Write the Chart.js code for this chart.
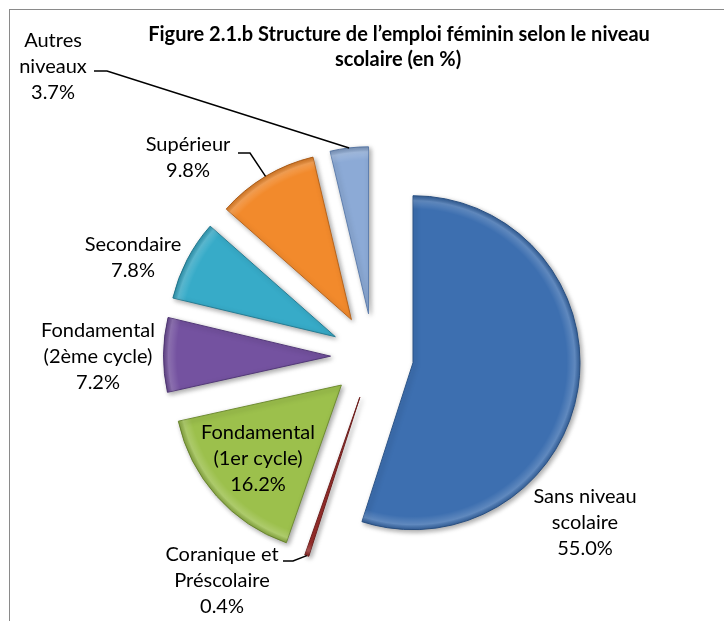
<!DOCTYPE html>
<html lang="fr">
  <head>
    <meta charset="UTF-8" />
    <title>Figure 2.1.b Structure de l'emploi féminin</title>
    <script src="https://cdn.jsdelivr.net/npm/chart.js"></script>
    <style>
      html, body {
        margin: 0;
        padding: 0;
        background: #fff;
        overflow: hidden;
      }
      .frame {
        position: absolute;
        left: 9px;
        top: 9px;
        width: 900px;
        height: 900px;
        border: 1px solid #8a8a8a;
      }
      #pieChart {
        position: absolute;
        left: 0;
        top: 0;
      }
    </style>
  </head>

  <body>
    <div class="frame"></div>
    <canvas id="pieChart" width="724" height="621"></canvas>

    <script>
      // categories (split on lines as in the figure) and shares in %
      const categories = [
        ["Sans niveau", "scolaire"],
        ["Coranique et", "Préscolaire"],
        ["Fondamental", "(1er cycle)"],
        ["Fondamental", "(2ème cycle)"],
        ["Secondaire"],
        ["Supérieur"],
        ["Autres", "niveaux"],
      ];
      const shares = [55.0, 0.4, 16.2, 7.2, 7.8, 9.8, 3.7];

      const colors = ["#3d6fb0", "#9a2e2b", "#9cc04c", "#7452a0", "#37abc8", "#f28a2c", "#8caad6"];
      const borders = ["#2c5488", "#6e1f1d", "#6f8c33", "#523878", "#267d94", "#b8641c", "#5f7fae"];

      // where each label's first line is centred
      const labelPos = [
        [585, 497],
        [222, 555],
        [258, 433],
        [98, 331],
        [133, 245],
        [188, 145],
        [53, 41],
      ];
      // leader lines: text side start, elbow, then to the slice edge
      const leaders = {
        6: [[94, 71], [107, 71]],
        5: [[238, 153], [250, 153]],
        1: [[283, 561], [293, 561]],
      };
      const explode = [40, 43, 43, 43, 43, 43, 43];

      const FONT = "Lato, 'Open Sans', sans-serif";

      const explodePlugin = {
        id: "explode",
        afterDatasetsUpdate(chart) {
          const arcs = chart.getDatasetMeta(0).data;
          arcs.forEach((arc, i) => {
            const mid = (arc.startAngle + arc.endAngle) / 2;
            arc.x += Math.cos(mid) * explode[i];
            arc.y += Math.sin(mid) * explode[i];
          });
        },
        beforeDatasetsDraw(chart) {
          const c = chart.ctx;
          c.save();
          c.shadowColor = "rgba(0,0,0,0.35)";
          c.shadowBlur = 5;
          c.shadowOffsetX = 2;
          c.shadowOffsetY = 2;
        },
        afterDatasetsDraw(chart) {
          const c = chart.ctx;
          c.restore();
          // soft bevel on the rim of each slice
          chart.getDatasetMeta(0).data.forEach((arc) => {
            const r = arc.outerRadius;
            c.save();
            c.beginPath();
            c.moveTo(arc.x, arc.y);
            c.arc(arc.x, arc.y, r, arc.startAngle, arc.endAngle);
            c.closePath();
            c.clip();
            const g = c.createRadialGradient(arc.x, arc.y, 0, arc.x, arc.y, r);
            g.addColorStop(0, "rgba(255,255,255,0)");
            g.addColorStop(0.92, "rgba(255,255,255,0)");
            g.addColorStop(0.97, "rgba(255,255,255,0.18)");
            g.addColorStop(1, "rgba(0,0,0,0.12)");
            c.fillStyle = g;
            c.fillRect(arc.x - r, arc.y - r, 2 * r, 2 * r);
            c.restore();
          });
        },
      };

      const labelPlugin = {
        id: "labels",
        afterDraw(chart) {
          const c = chart.ctx;
          const arcs = chart.getDatasetMeta(0).data;
          c.save();

          // title
          c.fillStyle = "#000";
          c.textAlign = "center";
          c.textBaseline = "middle";
          c.font = "bold 20px " + FONT;
          c.fillText("Figure 2.1.b Structure de l’emploi féminin selon le niveau", 399, 35);
          c.fillText("scolaire (en %)", 398, 60);

          // leader lines
          c.strokeStyle = "#000";
          c.lineWidth = 1.5;
          Object.keys(leaders).forEach((k) => {
            const arc = arcs[k];
            const mid = (arc.startAngle + arc.endAngle) / 2;
            const ex = arc.x + Math.cos(mid) * arc.outerRadius;
            const ey = arc.y + Math.sin(mid) * arc.outerRadius;
            const [a, b] = leaders[k];
            c.beginPath();
            c.moveTo(a[0], a[1]);
            c.lineTo(b[0], b[1]);
            c.lineTo(ex, ey);
            c.stroke();
          });

          // data labels
          c.font = "20px " + FONT;
          categories.forEach((lines, i) => {
            const all = lines.concat([shares[i].toFixed(1) + "%"]);
            all.forEach((t, j) => {
              c.fillText(t, labelPos[i][0], labelPos[i][1] + j * 26);
            });
          });
          c.restore();
        },
      };

      const ctx = document.getElementById("pieChart").getContext("2d");
      const pieChart = new Chart(ctx, {
        type: "pie",
        data: {
          labels: categories.map((l) => l.join(" ")),
          datasets: [
            {
              data: shares,
              backgroundColor: colors,
              borderColor: borders,
              borderWidth: 1,
              hoverOffset: 0,
            },
          ],
        },
        options: {
          responsive: false,
          animation: false,
          layout: {
            padding: { left: 206, right: 183, top: 189, bottom: 97 },
          },
          plugins: {
            legend: { display: false },
            title: { display: false },
            tooltip: { enabled: false },
          },
        },
        plugins: [explodePlugin, labelPlugin],
      });
    </script>
  </body>
</html>
